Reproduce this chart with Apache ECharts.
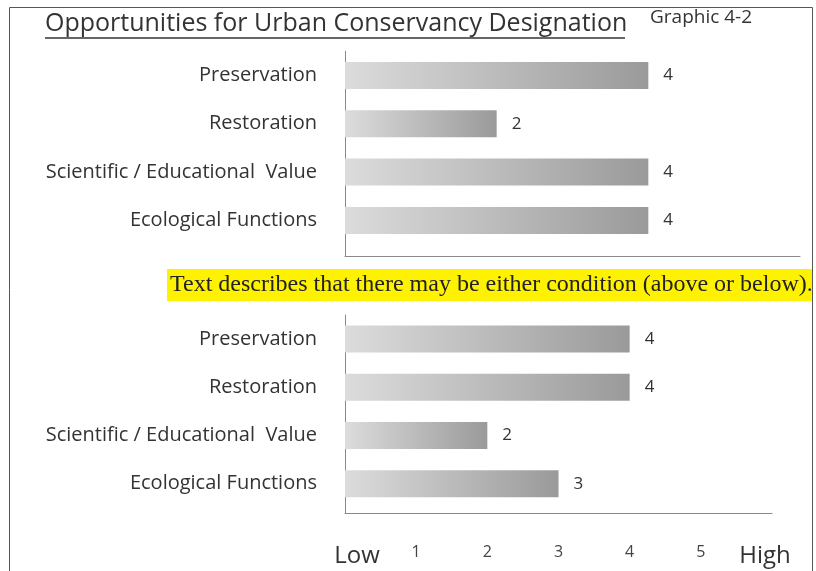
<!DOCTYPE html>
<html>
<head>
<meta charset="utf-8">
<script src="https://cdn.jsdelivr.net/npm/echarts@6/dist/echarts.min.js"></script>
<style>
html,body{margin:0;padding:0;background:#fff;}
#chart{width:816px;height:571px;}
</style>
</head>
<body>
<div id="chart"></div>
<script>
var titleText = 'Opportunities for Urban Conservancy Designation';
var graphicLabel = 'Graphic 4-2';
var noteText = 'Text describes that there may be either condition (above or below).';
var categories = ['Preservation', 'Restoration', 'Scientific / Educational  Value', 'Ecological Functions'];
var topValues = [4, 2, 4, 4];
var bottomValues = [4, 4, 2, 3];
var tickLabels = ['Low', '1', '2', '3', '4', '5', 'High'];

var chart = echarts.init(document.getElementById('chart'));
var FONT = 'Open Sans';
var barGrad = {
  type: 'linear', x: 0, y: 0, x2: 1, y2: 0,
  colorStops: [{offset: 0, color: '#dcdcdc'}, {offset: 1, color: '#9a9a9a'}]
};
function yAx(gi) {
  return {
    type: 'category', gridIndex: gi, inverse: true, data: categories,
    axisLine: {show: true, lineStyle: {color: '#8a8a8a', width: 1}},
    axisTick: {show: false},
    axisLabel: {margin: 28, fontFamily: FONT, fontSize: 20, color: '#333'}
  };
}
function barSeries(gi, vals) {
  return {
    type: 'bar', xAxisIndex: gi, yAxisIndex: gi, data: vals, barWidth: 27,
    itemStyle: {color: barGrad},
    label: {show: true, position: 'right', distance: 15, fontFamily: FONT, fontSize: 17, color: '#333'}
  };
}
chart.setOption({
  animation: false,
  backgroundColor: '#fff',
  grid: [
    {left: 345, top: 51.3, width: 455, height: 193.3},
    {left: 345, top: 315, width: 427, height: 192.8}
  ],
  xAxis: [
    {type: 'value', gridIndex: 0, min: 0, max: 6, interval: 1, offset: 12,
     axisLine: {show: true, lineStyle: {color: '#8a8a8a'}}, axisTick: {show: false},
     axisLabel: {show: false}, splitLine: {show: false}},
    {type: 'value', gridIndex: 1, min: 0, max: 6, interval: 1, offset: 5.5,
     axisLine: {show: true, lineStyle: {color: '#8a8a8a'}}, axisTick: {show: false},
     splitLine: {show: false},
     axisLabel: {
       margin: 31, fontFamily: FONT, fontSize: 16, color: '#444',
       formatter: function (v) {
         var t = tickLabels[v];
         if (v === 0) return '{low|' + t + '}';
         if (v === 6) return '{high|' + t + '}';
         return t;
       },
       rich: {
         low: {fontFamily: FONT, fontSize: 24, color: '#333', padding: [0, 0, 8, 24]},
         high: {fontFamily: FONT, fontSize: 24, color: '#333', padding: [0, 14, 8, 0]}
       }
     }}
  ],
  yAxis: [yAx(0), yAx(1)],
  series: [barSeries(0, topValues), barSeries(1, bottomValues)],
  graphic: [
    {type: 'rect', shape: {x: 9.5, y: 7.5, width: 803, height: 580}, style: {fill: 'none', stroke: '#555', lineWidth: 1}, z: 0},
    {type: 'line', shape: {x1: 345.5, y1: 244, x2: 345.5, y2: 257}, style: {stroke: '#8a8a8a', lineWidth: 1}},
    {type: 'line', shape: {x1: 345.5, y1: 507, x2: 345.5, y2: 513}, style: {stroke: '#8a8a8a', lineWidth: 1}},
    {type: 'text', left: 45, top: 11, style: {text: titleText, font: '25px "Open Sans"', fill: '#333'}},
    {type: 'line', shape: {x1: 45, y1: 38, x2: 625, y2: 38}, style: {stroke: '#333', lineWidth: 1.3}},
    {type: 'text', left: 650, top: 8, style: {text: graphicLabel, font: '19px "Open Sans"', fill: '#333'}},
    {type: 'rect', shape: {x: 167, y: 269, width: 645, height: 32}, style: {fill: '#fff200'}},
    {type: 'text', left: 170, top: 273, style: {text: noteText, font: '24px "Liberation Serif"', fill: '#222'}}
  ]
});
</script>
</body>
</html>
